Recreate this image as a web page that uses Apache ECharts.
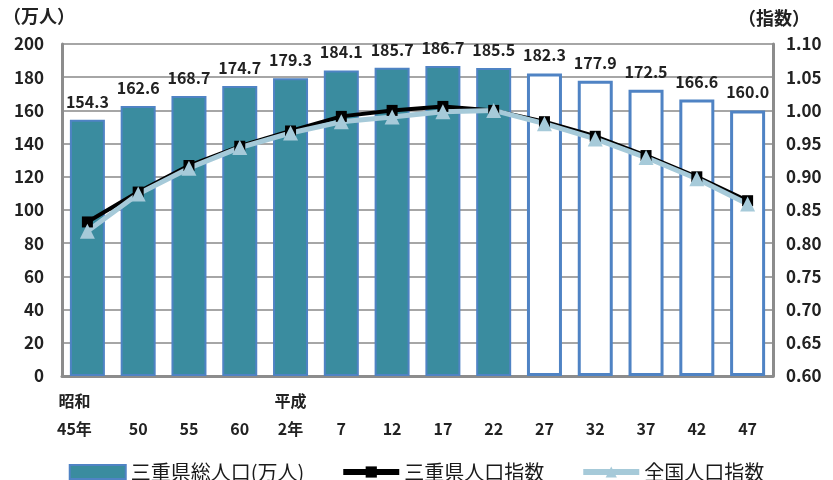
<!DOCTYPE html>
<html>
<head>
<meta charset="utf-8">
<script src="https://cdn.jsdelivr.net/npm/echarts@6/dist/echarts.min.js"></script>
<style>
  html, body { margin: 0; padding: 0; background: #fff; }
  #main { width: 833px; height: 480px; }
</style>
</head>
<body>
<div id="main"></div>
<script>
// 年次（昭和45年〜平成47年）
var years = ['昭和\n45年', '\n50', '\n55', '\n60', '平成\n2年', '\n7', '\n12', '\n17', '\n22', '\n27', '\n32', '\n37', '\n42', '\n47']
// 三重県総人口（万人）
var population = [154.3, 162.6, 168.7, 174.7, 179.3, 184.1, 185.7, 186.7, 185.5, 182.3, 177.9, 172.5, 166.6, 160.0]
// 三重県人口指数
var mieIndex = [0.832, 0.877, 0.917, 0.946, 0.969, 0.991, 1.000, 1.006, 1.000, 0.983, 0.961, 0.932, 0.900, 0.864]
// 全国人口指数
var japanIndex = [0.818, 0.874, 0.913, 0.944, 0.966, 0.983, 0.990, 0.998, 1.000, 0.980, 0.957, 0.929, 0.897, 0.859]
// 推計値の開始位置（平成27年〜）
var projectionStart = 9

var leftTicks = { min: 0, max: 200, interval: 20 }
var rightTicks = { min: 0.6, max: 1.1, interval: 0.05 }

var font = "'Noto Sans CJK JP', sans-serif"
var barFill = '#3a8c9f'
var barBorder = '#4f83c4'
var lightBlue = '#a6cad9'

var chart = echarts.init(document.getElementById('main'))

var barData = population.map(function (v, i) {
  if (i >= projectionStart) {
    return { value: v, itemStyle: { color: '#ffffff', borderColor: barBorder, borderWidth: 3 } }
  }
  return { value: v, itemStyle: { color: barFill, borderColor: barBorder, borderWidth: 2 } }
})

// 先頭ラベルだけ少し左寄せ
var xData = years.map(function (y, i) {
  if (i === 0) return { value: y, textStyle: { padding: [0, 26, 0, 0] } }
  return y
})

var option = {
  animation: false,
  textStyle: { fontFamily: font },
  grid: { left: 62, right: 60, top: 44, bottom: 104 },
  graphic: [
    { type: 'text', left: 3, top: 7, style: { text: '（万人）', font: 'bold 18px ' + font, fill: '#222' } },
    { type: 'text', left: 738, top: 9, style: { text: '（指数）', font: 'bold 18px ' + font, fill: '#222' } }
  ],
  legend: {
    top: 457,
    left: 'center',
    itemWidth: 56,
    itemHeight: 14,
    itemGap: 36,
    textStyle: { fontSize: 20, color: '#1a1a1a', fontFamily: font },
    data: [
      { name: '三重県総人口(万人)', icon: 'rect' },
      { name: '三重県人口指数', lineStyle: { width: 6 } },
      { name: '全国人口指数', lineStyle: { width: 6 } }
    ]
  },
  xAxis: {
    type: 'category',
    data: xData,
    axisTick: { show: false },
    axisLine: { lineStyle: { color: '#8c8c8c', width: 3 } },
    axisLabel: {
      color: '#222',
      fontSize: 16,
      fontWeight: 'bold',
      lineHeight: 28,
      margin: 11,
      interval: 0
    }
  },
  yAxis: [
    {
      type: 'value',
      min: leftTicks.min,
      max: leftTicks.max,
      interval: leftTicks.interval,
      axisLine: { show: true, lineStyle: { color: '#8c8c8c', width: 3 } },
      axisTick: { show: false },
      axisLabel: { color: '#222', fontSize: 17, fontWeight: 'bold', margin: 18 },
      splitLine: { lineStyle: { color: '#a6a6a6', width: 2 } }
    },
    {
      type: 'value',
      min: rightTicks.min,
      max: rightTicks.max,
      interval: rightTicks.interval,
      position: 'right',
      axisLine: { show: true, lineStyle: { color: '#8c8c8c', width: 3 } },
      axisTick: { show: false },
      axisLabel: {
        color: '#222', fontSize: 17, fontWeight: 'bold', margin: 13,
        formatter: function (v) { return v.toFixed(2) }
      },
      splitLine: { show: false }
    }
  ],
  series: [
    {
      name: '三重県総人口(万人)',
      type: 'bar',
      yAxisIndex: 0,
      barWidth: 35,
      itemStyle: { color: barFill, borderColor: barBorder, borderWidth: 2 },
      label: {
        show: true,
        position: 'top',
        distance: 10,
        color: '#222',
        fontSize: 16,
        fontWeight: 'bold',
        formatter: function (p) { return p.value.toFixed(1) }
      },
      data: barData
    },
    {
      name: '三重県人口指数',
      type: 'line',
      yAxisIndex: 1,
      symbol: 'rect',
      symbolSize: 11,
      lineStyle: { color: '#000', width: 4 },
      itemStyle: { color: '#000' },
      data: mieIndex
    },
    {
      name: '全国人口指数',
      type: 'line',
      yAxisIndex: 1,
      symbol: 'triangle',
      symbolSize: 15,
      lineStyle: { color: lightBlue, width: 5 },
      itemStyle: { color: lightBlue },
      data: japanIndex
    }
  ]
}

chart.setOption(option)
</script>
</body>
</html>
